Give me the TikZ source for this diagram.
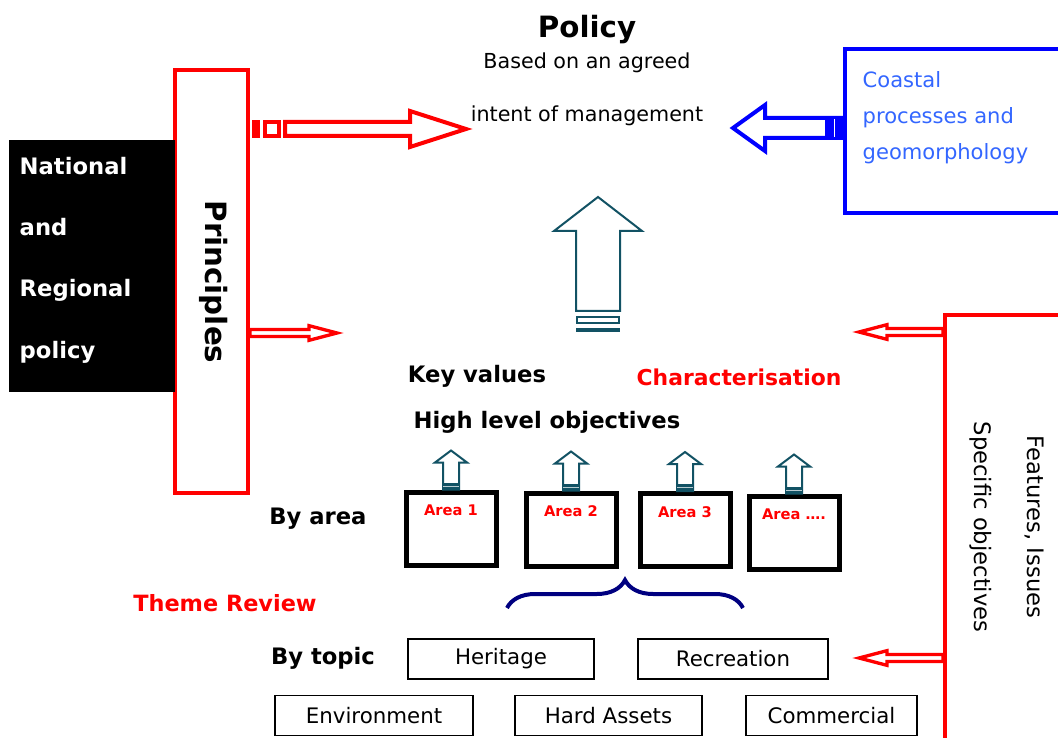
\documentclass[tikz,border=0pt]{standalone}
\usepackage{fontspec}
\setmainfont{DejaVu Sans}
\usetikzlibrary{calc,positioning,decorations.pathreplacing}

\definecolor{tealc}{RGB}{18,82,100}
\definecolor{navy}{RGB}{0,0,128}
\definecolor{coastblue}{RGB}{51,102,255}

\tikzset{
    blockarrow/.style n args={3}{to path={
        ($(\tikztostart)!#1!90:(\tikztotarget)$)
        -- ($(\tikztotarget)!#3!(\tikztostart)!#1!-90:(\tikztostart)$)
        -- ($(\tikztotarget)!#3!(\tikztostart)!#2!-90:(\tikztostart)$)
        -- (\tikztotarget)
        -- ($(\tikztotarget)!#3!(\tikztostart)!#2!90:(\tikztostart)$)
        -- ($(\tikztotarget)!#3!(\tikztostart)!#1!90:(\tikztostart)$)
        -- ($(\tikztostart)!#1!-90:(\tikztotarget)$)
        -- cycle}},
    bigred/.style={blockarrow={5.25pt}{13.5pt}{42pt}, draw=red, fill=white, line width=3pt},
    thinred/.style={blockarrow={2.6pt}{5.5pt}{21pt}, draw=red, fill=white, line width=2.5pt},
    bluearr/.style={blockarrow={7.5pt}{17.25pt}{24pt}, draw=blue, fill=white, line width=3pt},
    bigup/.style={blockarrow={16.5pt}{33pt}{25.5pt}, draw=tealc, fill=white, line width=1.5pt},
    smallup/.style={blockarrow={6pt}{12pt}{9pt}, draw=tealc, fill=white, line width=1.5pt},
    redbox/.style={draw=red, line width=3pt},
    areabox/.style={draw, line width=3.75pt, minimum width=67.5pt, minimum height=54.75pt},
    arealbl/.style={text=red, font=\bfseries\fontsize{11}{13}\selectfont},
    topic/.style={draw, line width=1.2pt, minimum height=30pt, font=\fontsize{16}{19}\selectfont},
    txt/.style={font=\fontsize{15.5}{18}\selectfont},
    bld/.style={font=\bfseries\fontsize{17}{20}\selectfont}
}

\begin{document}
\begin{tikzpicture}[x=0.75pt,y=-0.75pt]
    \useasboundingbox (0,0) rectangle (1058,738);

    % principles and policy sources
    \node[redbox, minimum width=54.75pt, minimum height=317.25pt] (princ) at (211.5,281.5) {};
    \node[rotate=-90, font=\bfseries\fontsize{22}{26}\selectfont] (princtxt) at (214,282) {Principles};
    \node[fill=black, minimum width=124.5pt, minimum height=189pt, inner sep=0pt] (natl) at (92,266) {};
    \node[anchor=west, align=left, text=white, font=\bfseries\fontsize{17}{46}\selectfont] (natltxt) at (15,260) {National\\and\\Regional\\policy};

    \node[font=\bfseries\fontsize{22}{26}\selectfont] (pol) at (587,30) {Policy};
    \node[txt] (agreed) at (587,63) {Based on an agreed};
    \node[txt] (intent) at (587,116) {intent of management};

    \node[draw=blue, line width=3pt, minimum width=191.25pt, minimum height=123pt] (coast) at (972.5,131) {};
    \node[anchor=west, align=left, text=coastblue, font=\fontsize{15.8}{27}\selectfont] (coasttxt) at (858,118) {Coastal\\processes and\\geomorphology};

    \node[redbox, minimum width=116.25pt, minimum height=363.75pt] (feat) at (1022.5,557.5) {};
    \node[rotate=-90, align=center, font=\fontsize{17}{40}\selectfont] (feattxt) at (1007,527) {Features, Issues\\Specific objectives};

    % arrows into policy
    \coordinate (polL) at (466,129);
    \coordinate (polR) at (733,128);
    \draw[bigred] ($(princ.east |- polL)+(26.25pt,0)$) to (polL);
    \draw[red, line width=3pt] (254,122) rectangle (258,136);
    \draw[red, line width=3pt] (265,122) rectangle (279,136);
    \draw[bluearr] (coast.west |- polR) to (polR);
    \fill[blue] (825,116) rectangle (843,140);
    \draw[white, line width=0.75pt] (834,119) -- (834,137);

    \coordinate (upfoot) at (598,311);
    \coordinate (uptip) at (598,197);
    \draw[bigup] (upfoot) to (uptip);
    \draw[tealc, line width=1.5pt] (577,317) rectangle (619,323);
    \draw[tealc, line width=1.5pt] (577,329) rectangle (619,331);

    % characterisation
    \node[bld] (keyv) at (477,376) {Key values};
    \node[bld] (hlo) at (547,422) {High level objectives};
    \node[bld, text=red, font=\bfseries\fontsize{16.4}{19}\selectfont] (charac) at (739,377) {Characterisation};

    \coordinate (keyL) at (337,333);
    \coordinate (charR) at (859,332);
    \coordinate (topR) at (859,658);
    \draw[thinred] (princ.east |- keyL) to (keyL);
    \draw[thinred] (feat.west |- charR) to (charR);
    \draw[thinred] (feat.west |- topR) to (topR);

    % areas
    \node[bld] (byarea) at (318,519) {By area};
    \foreach \i/\x/\y/\t in {1/451/528.5/Area 1, 2/571/529.5/Area 2, 3/685/530/Area 3, 4/794/532.5/Area ….}{
        \node[areabox] (a\i) at (\x,\y) {};
        \node[arealbl, below=8pt of a\i.north] (al\i) {\t};
        \draw[smallup] (a\i.north) to ($(a\i.north)+(0,29.25pt)$);
        \fill[tealc] ($(a\i.north)+(-6.75pt,0)$) rectangle ($(a\i.north)+(6.75pt,5.25pt)$);
        \draw[white!70!tealc, line width=0.6pt] ($(a\i.north)+(-6pt,2.6pt)$) -- ($(a\i.north)+(6pt,2.6pt)$);
    }
    \draw[navy, line width=3pt, decorate, decoration={brace, amplitude=21pt}] (507,608) -- (743,608);

    % topics
    \node[bld, text=red, font=\bfseries\fontsize{16.8}{20}\selectfont] (theme) at (225,603) {Theme Review};
    \node[bld] (bytopic) at (323,658) {By topic};
    \node[topic, minimum width=139.5pt] (her) at (501,659) {Heritage};
    \node[topic, minimum width=142.5pt] (rec) at (733,659) {Recreation};
    \node[topic, minimum width=148.5pt] (env) at (374,715.5) {Environment};
    \node[topic, minimum width=140.25pt] (hard) at (608.5,715.5) {Hard Assets};
    \node[topic, minimum width=128.25pt] (comm) at (831.5,715.5) {Commercial};
\end{tikzpicture}
\end{document}
